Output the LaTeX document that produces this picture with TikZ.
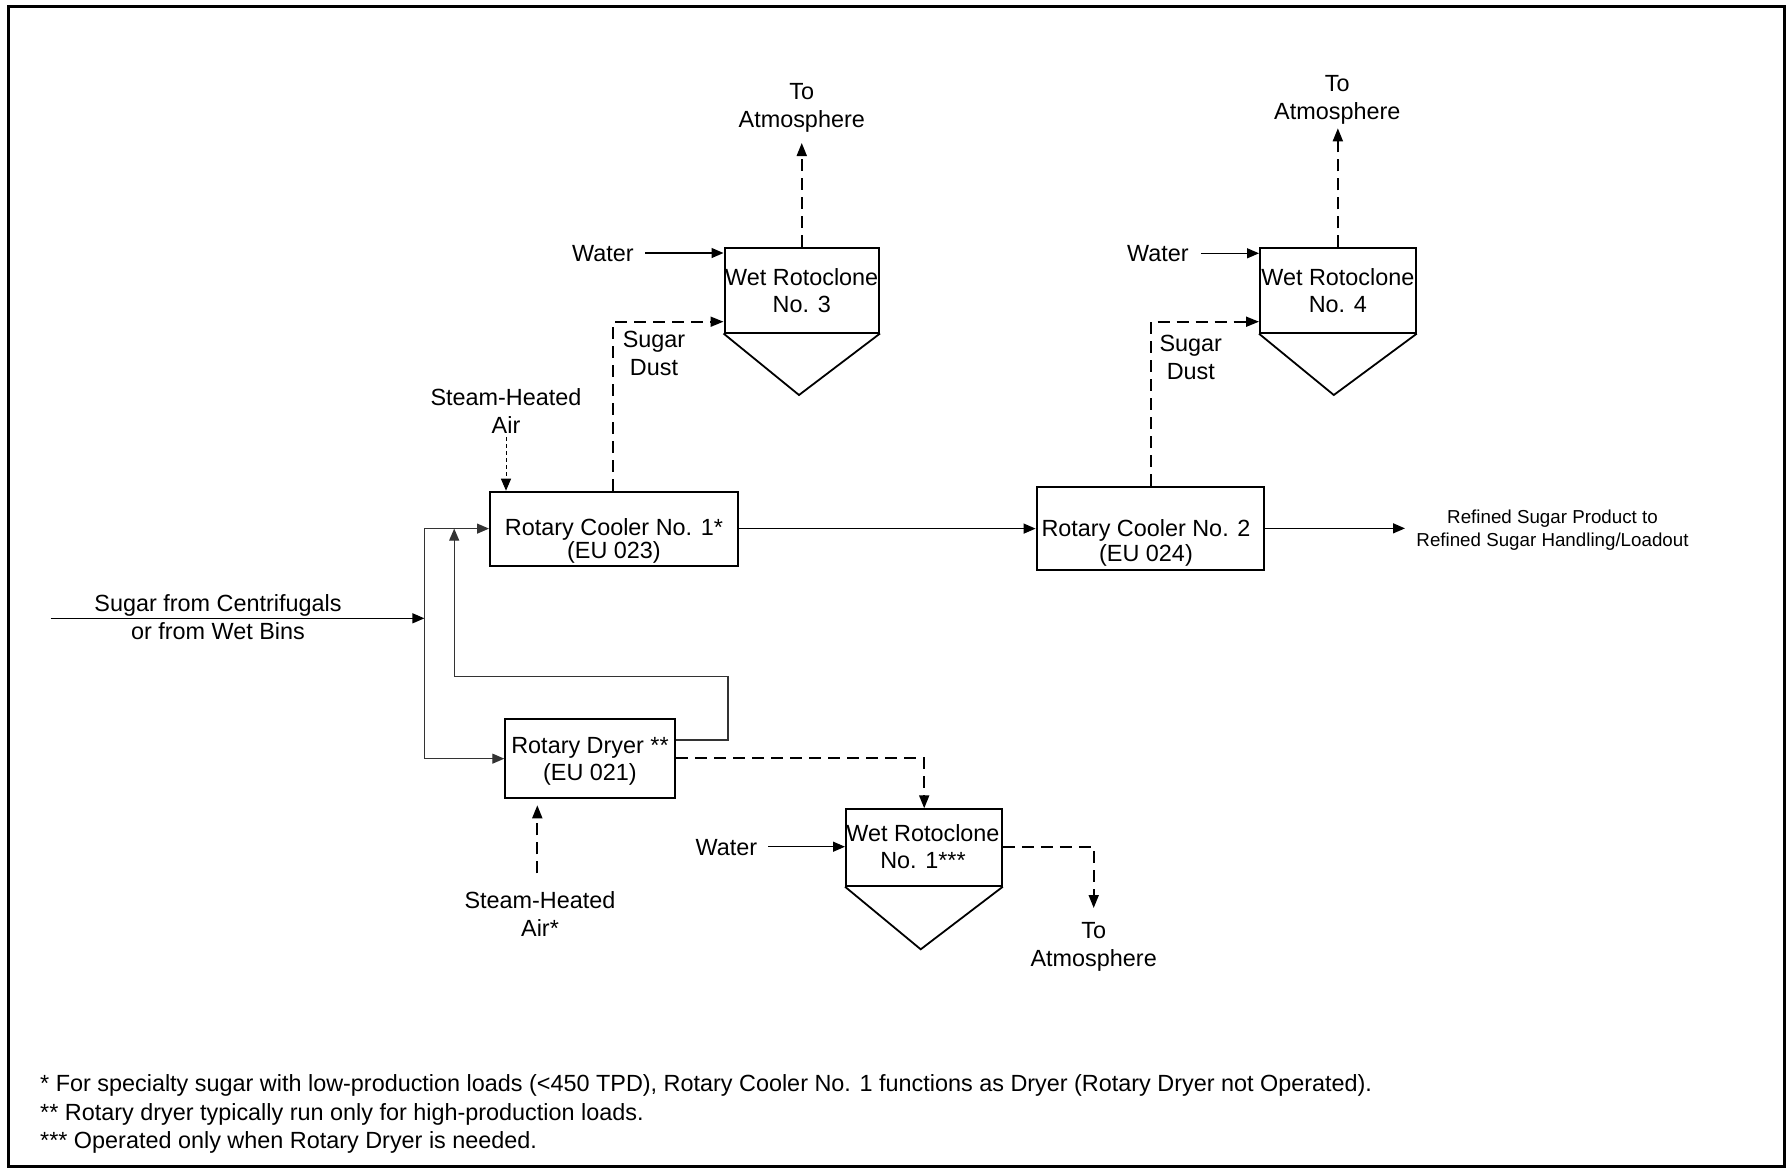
\documentclass[tikz,border=0pt]{standalone}
\usepackage{fontspec}
\setmainfont{Liberation Sans}
\usetikzlibrary{arrows.meta}
\begin{document}
\begin{tikzpicture}[x=1pt,y=-1pt,
  lbl/.style={font=\fontsize{23.4}{28}\selectfont, align=center, inner sep=0pt},
  note/.style={font=\fontsize{23.4}{28}\selectfont, anchor=west, inner sep=0pt},
  box/.style={draw, line width=2pt, inner sep=0pt},
  hopper/.style={line width=1.8pt, line join=miter},
  flow/.style={line width=1.3pt, -{Triangle[length=12pt,width=10pt]}},
  loopflow/.style={line width=1.2pt, draw=black!80, -{Triangle[length=12pt,width=10pt]}},
  gasflow/.style={line width=1.8pt, dash pattern=on 12pt off 7pt, -{Triangle[length=13pt,width=10pt]}},
  airflow/.style={line width=1pt, dash pattern=on 4pt off 3pt, -{Triangle[length=12pt,width=10pt]}},
]
\useasboundingbox (0,0) rectangle (1787,1168);
\fill[white] (0,0) rectangle (1787,1168);

% outer frame
\draw[line width=3pt] (8.5,6) rectangle (1784.5,1166);

% process units
\node[box, minimum width=248.3pt, minimum height=73.8pt] (rc1) at (614.15,528.6) {};
\node[lbl, font=\fontsize{23.4}{23.5}\selectfont] (rc1t) at (614,541) {Rotary Cooler No. 1*\\(EU 023)};

\node[box, minimum width=227pt, minimum height=83.3pt] (rc2) at (1150.1,528.35) {};
\node[lbl, font=\fontsize{23.4}{24.8}\selectfont] (rc2t) at (1146,543) {Rotary Cooler No. 2\\(EU 024)};

\node[box, minimum width=169.7pt, minimum height=79.3pt] (dry) at (590.15,758.65) {};
\node[lbl, font=\fontsize{23.4}{27}\selectfont] (dryt) at (590,761) {Rotary Dryer **\\(EU 021)};

% wet rotoclones with hoppers
\node[box, minimum width=154.5pt, minimum height=85pt] (wr3) at (801.75,290) {};
\node[lbl, font=\fontsize{23.4}{27.3}\selectfont] (wr3t) at (801.75,290.3) {Wet Rotoclone\\No. 3};
\coordinate (h3) at (799,395);
\draw[hopper] (wr3.south west) -- (h3) -- (wr3.south east);

\node[box, minimum width=155.7pt, minimum height=84.4pt] (wr4) at (1337.85,290.5) {};
\node[lbl, font=\fontsize{23.4}{27.3}\selectfont] (wr4t) at (1337.85,290.3) {Wet Rotoclone\\No. 4};
\coordinate (h4) at (1333.8,395);
\draw[hopper] (wr4.south west) -- (h4) -- (wr4.south east);

\node[box, minimum width=155.8pt, minimum height=76.4pt] (wr1) at (923.9,847.5) {};
\node[lbl, font=\fontsize{23.4}{26.7}\selectfont] (wr1t) at (923,846.7) {Wet Rotoclone\\No. 1***};
\coordinate (h1) at (920.7,949.3);
\draw[hopper] (wr1.south west) -- (h1) -- (wr1.south east);

% stream labels
\node[lbl] (atm3) at (801.75,107.5) {To\\Atmosphere};
\node[lbl] (atm4) at (1337.3,100) {To\\Atmosphere};
\node[lbl] (atm1) at (1093.7,946.5) {To\\Atmosphere};
\node[lbl] (wat3) at (603,254) {Water};
\node[lbl] (wat4) at (1158,254) {Water};
\node[lbl] (wat1) at (726.3,847.5) {Water};
\node[lbl] (dust3) at (654,353.5) {Sugar\\Dust};
\node[lbl] (dust4) at (1190.8,357.5) {Sugar\\Dust};
\node[lbl] (air1) at (506,411.5) {Steam-Heated\\Air};
\node[lbl] (air2) at (540,914) {Steam-Heated\\Air*};
\node[lbl] (feed) at (218,617.5) {Sugar from Centrifugals\\or from Wet Bins};
\node[lbl, font=\fontsize{18.75}{23.3}\selectfont] (prod) at (1552.5,530) {Refined Sugar Product to\\Refined Sugar Handling/Loadout};

% exhaust to atmosphere
\coordinate (t3) at (801.75,143);
\draw[gasflow] (wr3.north) -- (wr3.north |- t3);
\coordinate (t4) at (1337.3,128.3);
\draw[gasflow] (wr4.north) -- (wr4.north |- t4);
\coordinate (o1) at (1093.7,847.3);
\coordinate (o1e) at (1093.7,908);
\draw[gasflow] (wr1.east |- o1) -- (o1) -- (o1e);

% scrubber water
\coordinate (w3) at (645,253);
\draw[flow] (w3) -- (w3 -| wr3.west);
\coordinate (w4) at (1200.8,253.3);
\draw[flow] (w4) -- (w4 -| wr4.west);
\coordinate (w1) at (768.4,846.7);
\draw[flow] (w1) -- (w1 -| wr1.west);

% sugar dust to scrubbers
\coordinate (sd3) at (613.3,321.7);
\draw[gasflow] (rc1.north -| sd3) |- (sd3 -| wr3.west);
\coordinate (sd4) at (1150.6,321.7);
\draw[gasflow] (rc2.north -| sd4) |- (sd4 -| wr4.west);

% steam-heated air
\coordinate (a1) at (506,437);
\draw[airflow] (a1) -- (a1 |- rc1.north);
\coordinate (a2) at (537.3,873.3);
\draw[gasflow, shorten >=6pt] (a2) -- (a2 |- dry.south);

% product line
\draw[flow] (rc1.east) -- (rc1.east -| rc2.west);
\coordinate (pe) at (1405,529);
\draw[flow] (rc2.east) -- (rc2.east -| pe);

% feed split
\coordinate (fs) at (50.7,618.3);
\coordinate (jn) at (424.4,618.3);
\draw[flow] (fs) -- (jn);
\draw[loopflow] (jn) |- (rc1.west);
\draw[loopflow] (jn) |- (dry.west);

% dryer discharge back to cooler
\coordinate (r1) at (728,740);
\coordinate (r2) at (454.2,676.7);
\draw[loopflow] (dry.east |- r1) -- (r1) |- (r2) -- (r2 |- rc1.west);

% dryer exhaust to scrubber
\coordinate (d1) at (924.2,758.3);
\draw[gasflow] (dry.east |- d1) -- (d1) -- (d1 |- wr1.north);

% footnotes
\node[note] (fn1) at (40,1085) {* For specialty sugar with low-production loads (<450 TPD), Rotary Cooler No. 1 functions as Dryer (Rotary Dryer not Operated).};
\node[note] (fn2) at (40,1114) {** Rotary dryer typically run only for high-production loads.};
\node[note] (fn3) at (40,1142) {*** Operated only when Rotary Dryer is needed.};
\end{tikzpicture}
\end{document}
